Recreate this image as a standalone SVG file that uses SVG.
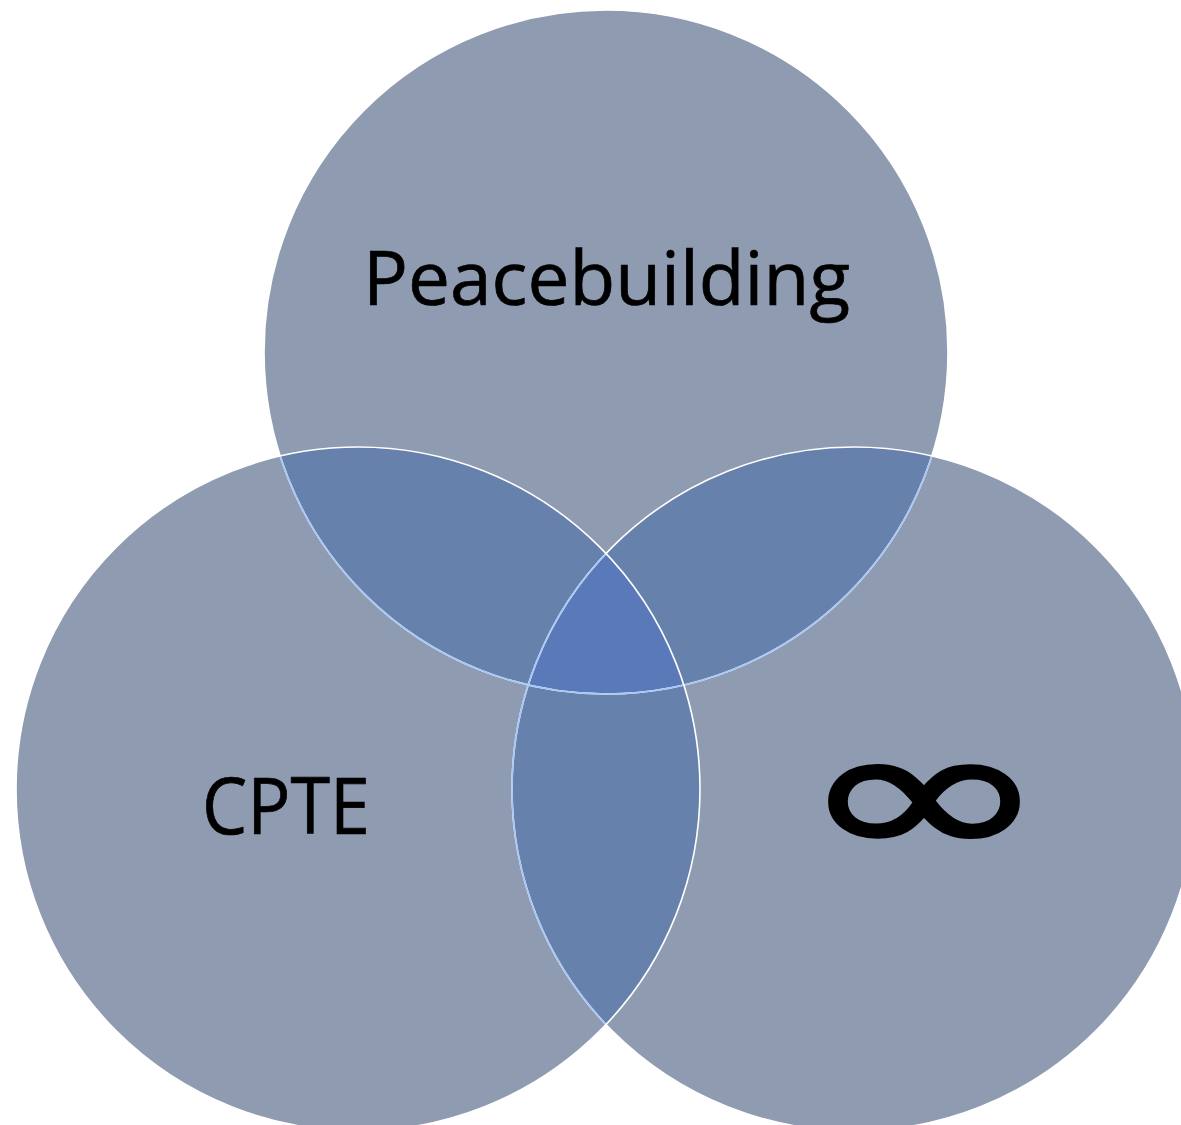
<svg xmlns="http://www.w3.org/2000/svg" width="1181" height="1125" viewBox="0 0 1181 1125">
<style>
.base{fill:#8F9BB0}
.pair{fill:#6781AD}
.triple{fill:#5979B9}
.outW{fill:none;stroke:#FFFFFF;stroke-width:1.6}
.outB{fill:none;stroke:#A6C8F6;stroke-width:1.6}
.lbl{font-family:"Open Sans","Noto Sans","Liberation Sans",sans-serif;fill:#000000;stroke:#000000;stroke-width:0.7}
</style>
<defs>
<clipPath id="cT"><circle cx="606" cy="352" r="342"/></clipPath>
<clipPath id="cL"><circle cx="358" cy="789" r="342"/></clipPath>
<clipPath id="cR"><circle cx="854" cy="789" r="342"/></clipPath>
<clipPath id="cLR"><circle cx="358" cy="789" r="342"/><circle cx="854" cy="789" r="342"/></clipPath>
</defs>
<rect width="1181" height="1125" fill="#FFFFFF"/>
<g id="fills">
<circle class="base" cx="606" cy="352" r="342"/>
<circle class="base" cx="358" cy="789" r="342"/>
<circle class="base" cx="854" cy="789" r="342"/>
<circle class="pair" cx="854" cy="789" r="342" clip-path="url(#cT)"/>
<circle class="pair" cx="358" cy="789" r="342" clip-path="url(#cT)"/>
<circle class="pair" cx="358" cy="789" r="342" clip-path="url(#cR)"/>
<g clip-path="url(#cR)"><circle class="triple" cx="358" cy="789" r="342" clip-path="url(#cT)"/></g>
</g>
<g id="node-peacebuilding">
<circle class="outW" cx="606" cy="352" r="342"/>
<circle class="outB" cx="606" cy="352" r="342" clip-path="url(#cLR)"/>
<text class="lbl" x="363" y="305" font-size="75" textLength="487" lengthAdjust="spacingAndGlyphs">Peacebuilding</text>
</g>
<g id="node-infinity">
<circle class="outW" cx="854" cy="789" r="342"/>
<circle class="outB" cx="854" cy="789" r="342" clip-path="url(#cL)"/>
<text font-family="DejaVu Sans, sans-serif" x="798" y="859" font-size="192" textLength="252" lengthAdjust="spacingAndGlyphs" fill="#000000" stroke="#000000" stroke-width="3">∞</text>
</g>
<g id="node-cpte">
<circle class="outW" cx="358" cy="789" r="342"/>
<text class="lbl" x="202" y="834" font-size="78" textLength="168" lengthAdjust="spacingAndGlyphs">CPTE</text>
</g>
<g id="connectors"></g>
</svg>
